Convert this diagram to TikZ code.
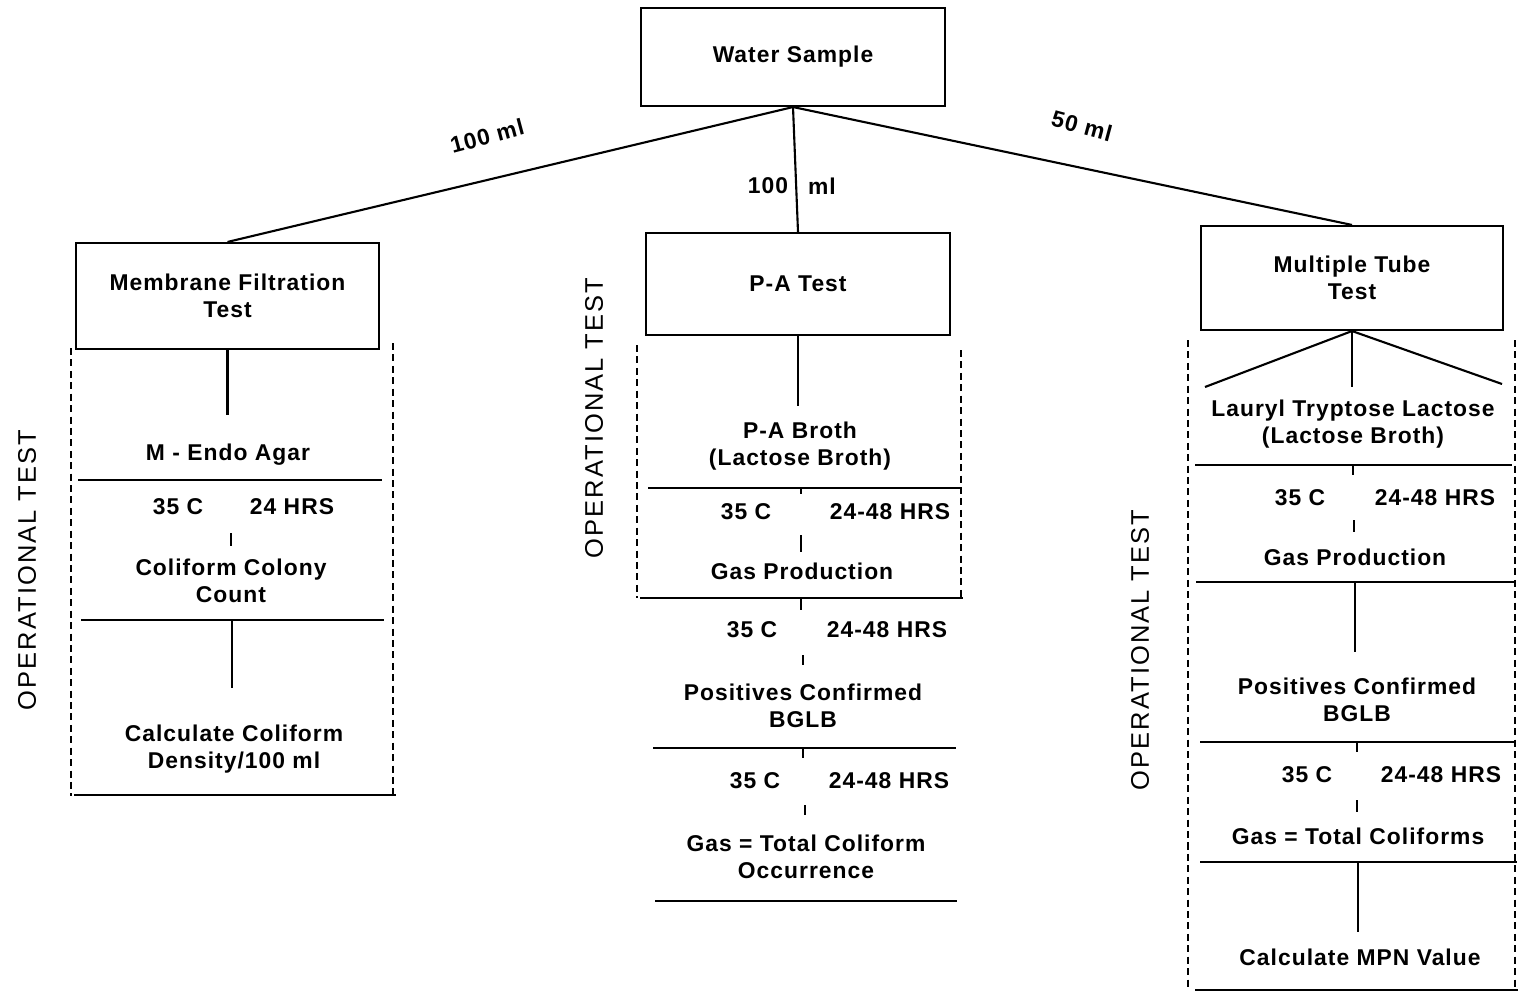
\documentclass[tikz,border=0pt]{standalone}
\usepackage{fontspec}
\newfontfamily\lbl[LetterSpace=4.5]{Liberation Sans}
\newfontfamily\lblside[LetterSpace=8]{Liberation Sans}
\begin{document}
\begin{tikzpicture}[x=0.02cm,y=-0.02cm,
 txt/.style={font=\lbl\bfseries\fontsize{13}{15.3}\selectfont, align=center, inner sep=0pt},
 side/.style={font=\lblside\fontsize{14.5}{16}\selectfont, rotate=90, inner sep=0pt},
 box/.style={draw, line width=1.2pt},
 ln/.style={line width=1.2pt},
 dsh/.style={line width=1.1pt, dash pattern=on 4pt off 2.5pt},
 tk/.style={line width=1pt}]
\useasboundingbox (0,0) rectangle (1518,993);
% top boxes
\node[box,txt,minimum width=6.08cm,minimum height=1.96cm] (ws) at (793,57) {Water Sample};
\node[box,txt,minimum width=6.06cm,minimum height=2.12cm] (mf) at (227.5,296) {Membrane Filtration\\Test};
\node[box,txt,minimum width=6.08cm,minimum height=2.04cm] (pa) at (798,284) {P-A Test};
\node[box,txt,minimum width=6.04cm,minimum height=2.08cm] (mt) at (1352,278) {Multiple Tube\\Test};
\draw[ln] (ws.south) -- (mf.north);
\draw[ln] (ws.south) -- (pa.north);
\draw[ln] (ws.south) -- (mt.north);
\node[txt,rotate=15] (l1) at (487,136) {100 ml};
\node[txt] (l2a) at (768,186) {100};
\node[txt] (l2b) at (822,186) {ml};
\node[txt,rotate=-15] (l3) at (1082,126) {50 ml};
% membrane filtration column
\node[side] (op1) at (27,570) {OPERATIONAL TEST};
\draw[dsh] (71,348) -- (71,796);
\draw[dsh] (393,343) -- (393,794);
\draw[ln] (mf.south) -- ++(0,65);
\node[txt] (mf1) at (228,455) {M - Endo Agar};
\draw[ln] (78,480) -- (382,480);
\node[txt] (mf2a) at (178,507) {35 C};
\node[txt] (mf2b) at (292,507) {24 HRS};
\draw[tk] (231,533) -- (231,546);
\node[txt] (mf3) at (231,581) {Coliform Colony\\Count};
\draw[ln] (81,620) -- (384,620);
\draw[ln] (232,620) -- (232,688);
\node[txt] (mf4) at (234,749) {Calculate Coliform\\Density/100 ml};
\draw[ln] (74,795) -- (396,795);
% P-A column
\node[side] (op2) at (594,418) {OPERATIONAL TEST};
\draw[dsh] (637,345) -- (637,598);
\draw[dsh] (961,350) -- (961,598);
\draw[ln] (pa.south) -- ++(0,70);
\node[txt] (pa1) at (800,446) {P-A Broth\\(Lactose Broth)};
\draw[ln] (648,488) -- (960,488);
\draw[tk] (801,488) -- (801,494);
\node[txt] (pa2a) at (746,512) {35 C};
\node[txt] (pa2b) at (890,512) {24-48 HRS};
\draw[tk] (801,535) -- (801,552);
\node[txt] (pa3) at (802,571) {Gas Production};
\draw[ln] (640,598) -- (963,598);
\draw[tk] (801,598) -- (801,610);
\node[txt] (pa4a) at (752,630) {35 C};
\node[txt] (pa4b) at (887,630) {24-48 HRS};
\draw[tk] (803,655) -- (803,665);
\node[txt] (pa5) at (803,706) {Positives Confirmed\\BGLB};
\draw[ln] (653,748) -- (956,748);
\draw[tk] (803,748) -- (803,758);
\node[txt] (pa6a) at (755,781) {35 C};
\node[txt] (pa6b) at (889,781) {24-48 HRS};
\draw[tk] (805,805) -- (805,815);
\node[txt] (pa7) at (806,857) {Gas = Total Coliform\\Occurrence};
\draw[ln] (655,901) -- (957,901);
% multiple tube column
\node[side] (op3) at (1140,650) {OPERATIONAL TEST};
\draw[dsh] (1188,340) -- (1188,990);
\draw[dsh] (1515,340) -- (1515,990);
\coordinate (mtl) at (1205,387);
\coordinate (mtc) at (1352,387);
\coordinate (mtr) at (1502,384);
\draw[ln] (mt.south) -- (mtl);
\draw[ln] (mt.south) -- (mtc);
\draw[ln] (mt.south) -- (mtr);
\node[txt] (mt1) at (1353,424) {Lauryl Tryptose Lactose\\(Lactose Broth)};
\draw[ln] (1195,465) -- (1512,465);
\draw[tk] (1353,465) -- (1353,475);
\node[txt] (mt2a) at (1300,498) {35 C};
\node[txt] (mt2b) at (1435,498) {24-48 HRS};
\draw[tk] (1354,520) -- (1354,532);
\node[txt] (mt3) at (1355,557) {Gas Production};
\draw[ln] (1196,582) -- (1515,582);
\draw[ln] (1355,582) -- (1355,652);
\node[txt] (mt4) at (1357,700) {Positives Confirmed\\BGLB};
\draw[ln] (1200,742) -- (1515,742);
\draw[tk] (1357,742) -- (1357,752);
\node[txt] (mt5a) at (1307,775) {35 C};
\node[txt] (mt5b) at (1441,775) {24-48 HRS};
\draw[tk] (1357,800) -- (1357,812);
\node[txt] (mt6) at (1358,836) {Gas = Total Coliforms};
\draw[ln] (1200,862) -- (1517,862);
\draw[ln] (1358,862) -- (1358,932);
\node[txt] (mt7) at (1360,957) {Calculate MPN Value};
\draw[ln] (1195,990) -- (1518,990);
\end{tikzpicture}
\end{document}
